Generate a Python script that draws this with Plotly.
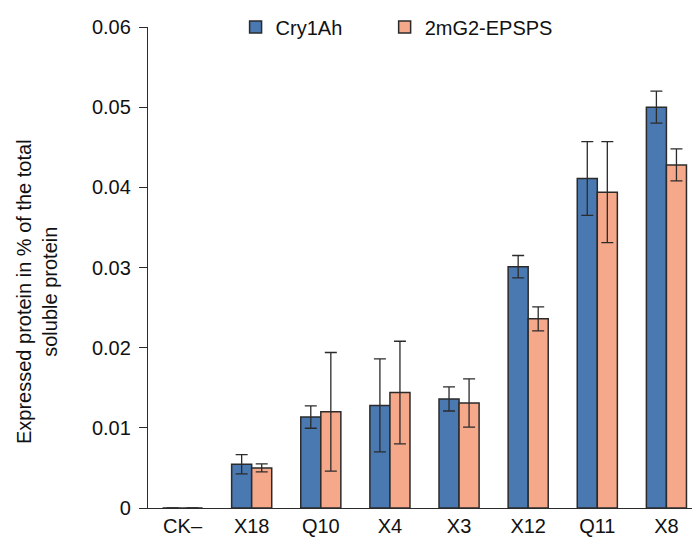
import plotly.graph_objects as go

categories = ["CK–", "X18", "Q10", "X4", "X3", "X12", "Q11", "X8"]
cry1ah = [0.0, 0.00545, 0.01135, 0.0128, 0.0136, 0.0301, 0.0411, 0.0500]
cry1ah_err = [0.0, 0.0012, 0.0014, 0.0058, 0.0015, 0.0014, 0.0046, 0.0020]
epsps = [0.0, 0.0050, 0.0120, 0.0144, 0.0131, 0.0236, 0.0394, 0.0428]
epsps_err = [0.0, 0.0005, 0.0074, 0.0064, 0.0030, 0.0015, 0.0063, 0.0020]
y_ticks = [0, 0.01, 0.02, 0.03, 0.04, 0.05, 0.06]
y_tick_text = ["0", "0.01", "0.02", "0.03", "0.04", "0.05", "0.06"]
y_title = "Expressed protein in % of the total<br>soluble protein"

font = "Liberation Sans, Arial, sans-serif"
line_col = "#2b2b2b"

fig = go.Figure()
fig.add_trace(go.Bar(
    x=categories, y=cry1ah, name="Cry1Ah", legend="legend", showlegend=True,
    marker=dict(color="#4a78b0", line=dict(color=line_col, width=1.5)),
    error_y=dict(type="data", array=cry1ah_err, visible=True, color=line_col, thickness=1.3, width=6),
))
fig.add_trace(go.Bar(
    x=categories, y=epsps, name="2mG2-EPSPS", legend="legend2", showlegend=True,
    marker=dict(color="#f6a88b", line=dict(color=line_col, width=1.5)),
    error_y=dict(type="data", array=epsps_err, visible=True, color=line_col, thickness=1.3, width=6),
))

fig.add_annotation(text=y_title, xref="paper", yref="paper", x=-0.205, y=0.45,
                   xanchor="center", yanchor="middle", textangle=-90, showarrow=False,
                   align="center", font=dict(size=20, family=font, color="#111"))

legend_common = dict(orientation="h", y=1.0, xanchor="left", yanchor="middle",
                     font=dict(size=20), itemwidth=30, bgcolor="rgba(0,0,0,0)")

fig.update_layout(
    width=692, height=545,
    margin=dict(l=148, r=0, t=27, b=37),
    paper_bgcolor="white", plot_bgcolor="white",
    showlegend=True,
    barmode="group", bargap=0.42, bargroupgap=0,
    font=dict(family=font, size=20, color="#111"),
    legend=dict(x=0.161, **legend_common),
    legend2=dict(x=0.435, **legend_common),
    xaxis=dict(range=[-0.5, 7.37], showline=True, linecolor=line_col, linewidth=1.3,
               ticks="", showgrid=False, tickfont=dict(size=20)),
    yaxis=dict(range=[0, 0.06], tickvals=y_ticks, ticktext=y_tick_text,
               showline=True, linecolor=line_col, linewidth=1.3,
               ticks="outside", ticklen=8, tickcolor=line_col, showgrid=False, zeroline=False,
               tickfont=dict(size=20), ticklabelstandoff=4),
)
fig.write_html("out.html", config={"displayModeBar": False},
               post_script="document.body.style.margin='0px';")
